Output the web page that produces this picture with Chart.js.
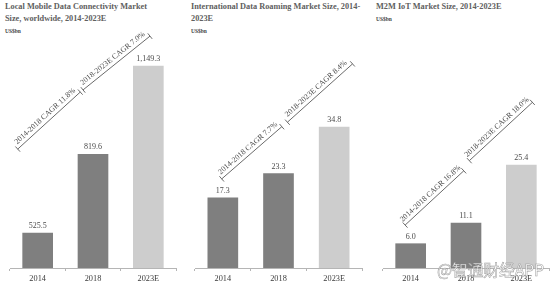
<!DOCTYPE html>
<html>
<head>
<meta charset="utf-8">
<script src="https://cdn.jsdelivr.net/npm/chart.js@4.4.0/dist/chart.umd.min.js"></script>
<style>
  body { margin: 0; background: #fff; width: 554px; height: 287px; overflow: hidden; position: relative; }
  .panel { position: absolute; top: 0; height: 287px; }
  .title { position: absolute; top: 1px; font-family: "Liberation Serif", "Times New Roman", serif; font-weight: bold; font-size: 8.3px; line-height: 12px; color: #606060; white-space: nowrap; }
  .unit { font-size: 5.5px; line-height: 9px; color: #444; }
  canvas { position: absolute; top: 0; left: 0; }
  .wm { position: absolute; left: 437px; top: 257px; font-family: "Noto Sans CJK SC", sans-serif; font-size: 16px; color: rgba(255,255,255,0.9); -webkit-text-stroke: 0.5px rgba(130,130,130,0.8); white-space: nowrap; letter-spacing: -0.3px; }
</style>
</head>
<body>
<div class="panel" style="left:0;width:186px">
  <div class="title" style="left:5px">Local Mobile Data Connectivity Market<br>Size, worldwide, 2014-2023E<br><span class="unit">US$bn</span></div>
  <canvas id="c1" width="186" height="287"></canvas>
</div>
<div class="panel" style="left:186px;width:186px">
  <div class="title" style="left:5px">International Data Roaming Market Size, 2014-<br>2023E<br><span class="unit">US$bn</span></div>
  <canvas id="c2" width="186" height="287"></canvas>
</div>
<div class="panel" style="left:372px;width:182px">
  <div class="title" style="left:4px">M2M IoT Market Size, 2014-2023E<br><span class="unit">US$bn</span></div>
  <canvas id="c3" width="182" height="287"></canvas>
</div>
<div class="wm">@智通财经APP</div>
<script>
const years = ['2014', '2018', '2023E'];
const mobileValues = [525.5, 819.6, 1149.3];
const roamingValues = [17.3, 23.3, 34.8];
const m2mValues = [6.0, 11.1, 25.4];
const mobileCagr = ['2014-2018 CAGR 11.8%', '2018-2023E CAGR 7.0%'];
const roamingCagr = ['2014-2018 CAGR 7.7%', '2018-2023E CAGR 8.4%'];
const m2mCagr = ['2014-2018 CAGR 16.8%', '2018-2023E CAGR 18.0%'];

// where the CAGR brackets sit, in (category index, value) units
const mobileBrackets = [[-0.36, 839, 0.77, 1052], [0.82, 1060, 2.03, 1261]];
const roamingBrackets = [[-0.02, 22.0, 1.06, 34.9], [1.16, 36.0, 2.33, 50.4]];
const m2mBrackets = [[-0.10, 10.6, 0.96, 24.0], [1.06, 26.5, 2.2, 40.9]];

const serif = '"Liberation Serif", "Times New Roman", serif';
const darkBar = '#7f7f7f';
const lightBar = '#cdcdcd';

const annotate = {
  id: 'annotate',
  afterDatasetsDraw(chart, args, opts) {
    const ctx = chart.ctx;
    const xs = chart.scales.x, ys = chart.scales.y;
    ctx.save();
    ctx.fillStyle = '#4a4a4a';
    ctx.font = '8px ' + serif;
    ctx.textAlign = 'center';
    ctx.textBaseline = 'bottom';
    chart.getDatasetMeta(0).data.forEach((bar, i) => {
      const v = chart.data.datasets[0].data[i];
      const txt = v.toLocaleString('en-US', {minimumFractionDigits: 1, maximumFractionDigits: 1});
      ctx.fillText(txt, bar.x, bar.y - 3);
    });
    (opts.brackets || []).forEach((b, i) => {
      const x0 = xs.getPixelForValue(b[0]), y0 = ys.getPixelForValue(b[1]);
      const x1 = xs.getPixelForValue(b[2]), y1 = ys.getPixelForValue(b[3]);
      const ang = Math.atan2(y1 - y0, x1 - x0);
      const nx = Math.sin(ang) * 3.5, ny = -Math.cos(ang) * 3.5;
      ctx.strokeStyle = '#6a6a6a';
      ctx.lineWidth = 1;
      ctx.beginPath();
      ctx.moveTo(x0, y0); ctx.lineTo(x1, y1);
      ctx.moveTo(x0 - nx, y0 - ny); ctx.lineTo(x0 + nx, y0 + ny);
      ctx.moveTo(x1 - nx, y1 - ny); ctx.lineTo(x1 + nx, y1 + ny);
      ctx.stroke();
      ctx.save();
      ctx.translate((x0 + x1) / 2, (y0 + y1) / 2);
      ctx.rotate(ang);
      ctx.fillStyle = '#4a4a4a';
      ctx.font = '7.8px ' + serif;
      ctx.fillText(opts.labels[i], 0, -2);
      ctx.restore();
    });
    ctx.restore();
  }
};

function makeChart(id, values, yMin, yMax, brackets, labels, padL, padR) {
  return new Chart(document.getElementById(id), {
    type: 'bar',
    data: {
      labels: years,
      datasets: [{
        data: values,
        backgroundColor: [darkBar, darkBar, lightBar],
        barThickness: 30
      }]
    },
    plugins: [annotate],
    options: {
      responsive: false,
      animation: false,
      layout: { padding: { top: 40, left: padL, right: padR, bottom: 0 } },
      plugins: {
        legend: { display: false },
        tooltip: { enabled: false },
        annotate: { brackets: brackets, labels: labels }
      },
      scales: {
        x: {
          offset: true,
          grid: { offset: true, drawOnChartArea: false, tickLength: 3, color: '#b5b5b5' },
          border: { color: '#b5b5b5' },
          ticks: { color: '#3a3a3a', font: { family: serif, size: 8.3 }, padding: 3 },
          afterFit(scale) { scale.height = 19; }
        },
        y: { display: false, min: yMin, max: yMax }
      }
    }
  });
}

makeChart('c1', mobileValues, 394.8, 1246.5, mobileBrackets, mobileCagr, 10, 10);
makeChart('c2', roamingValues, 0, 56.3, roamingBrackets, roamingCagr, 9, 10);
makeChart('c3', m2mValues, 0, 56.3, m2mBrackets, m2mCagr, 11, 5);
</script>
</body>
</html>
